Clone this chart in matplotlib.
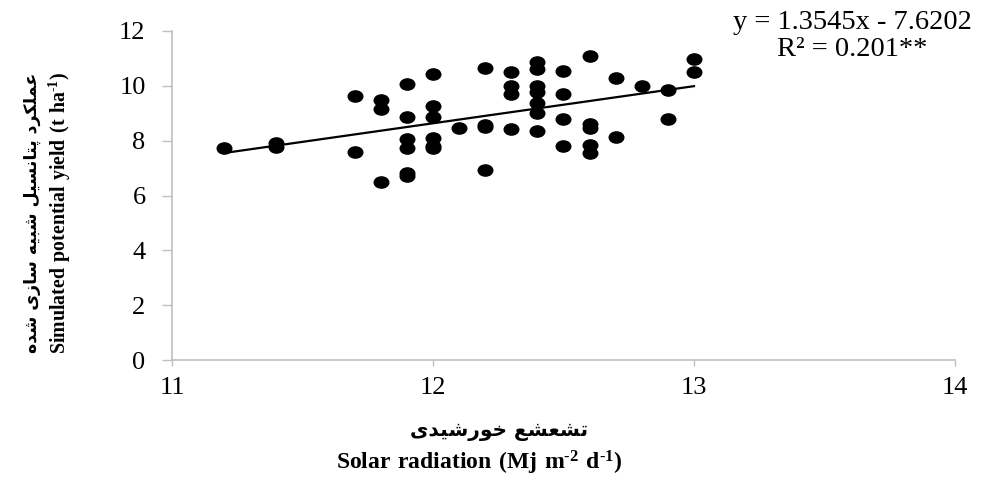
import numpy as np
import matplotlib
matplotlib.use("Agg")
import matplotlib.pyplot as plt
from matplotlib.path import Path
from matplotlib.transforms import Affine2D

# data
x_vals = [11.2,
          11.4, 11.4,
          11.7, 11.7,
          11.8, 11.8, 11.8,
          11.9, 11.9, 11.9, 11.9, 11.9, 11.9,
          12.0, 12.0, 12.0, 12.0, 12.0, 12.0,
          12.1,
          12.2, 12.2, 12.2, 12.2,
          12.3, 12.3, 12.3, 12.3,
          12.4, 12.4, 12.4, 12.4, 12.4, 12.4, 12.4,
          12.5, 12.5, 12.5, 12.5,
          12.6, 12.6, 12.6, 12.6, 12.6,
          12.7, 12.7,
          12.8,
          12.9, 12.9,
          13.0, 13.0]
y_vals = [7.74,
          7.93, 7.78,
          9.64, 7.60,
          9.48, 9.14, 6.50,
          10.07, 8.87, 8.06, 7.74, 6.82, 6.70,
          10.42, 9.26, 8.87, 8.08, 7.82, 7.72,
          8.45,
          10.66, 8.58, 8.50, 6.93,
          10.49, 10.00, 9.70, 8.41,
          10.88, 10.60, 10.00, 9.79, 9.38, 9.02, 8.36,
          10.55, 9.70, 8.78, 7.80,
          11.09, 8.60, 8.45, 7.84, 7.56,
          10.27, 8.14,
          9.99,
          9.85, 8.78,
          10.98, 10.49]
slope, intercept = 1.3545, -7.6202
x_ticks = [11, 12, 13, 14]
y_ticks = [0, 2, 4, 6, 8, 10, 12]

eq_text = "y = 1.3545x - 7.6202"
r2_text = "R\u00b2 = 0.201**"
ylabel_fa = "عملکرد پتانسیل شبیه سازی شده"
xlabel_fa = "تشعشع خورشیدی"
xlabel_en = "$\\mathbf{Solar\\ radiation\\ (Mj\\ m^{\u20102}\\ d^{\u20101})}$"
ylabel_en = "$\\mathbf{Simulated\\ potential\\ yield\\ (t\\ ha^{\u20101})}$"

# --- minimal Persian shaping (matplotlib has no bidi / joining) ---
FORMS = {
    "ع": "\uFEC9\uFECA\uFECB\uFECC", "م": "\uFEE1\uFEE2\uFEE3\uFEE4",
    "ل": "\uFEDD\uFEDE\uFEDF\uFEE0", "ک": "\uFB8E\uFB8F\uFB90\uFB91",
    "پ": "\uFB56\uFB57\uFB58\uFB59", "ت": "\uFE95\uFE96\uFE97\uFE98",
    "ن": "\uFEE5\uFEE6\uFEE7\uFEE8", "س": "\uFEB1\uFEB2\uFEB3\uFEB4",
    "ی": "\uFBFC\uFBFD\uFBFE\uFBFF", "ش": "\uFEB5\uFEB6\uFEB7\uFEB8",
    "ب": "\uFE8F\uFE90\uFE91\uFE92", "ه": "\uFEE9\uFEEA\uFEEB\uFEEC",
    "خ": "\uFEA5\uFEA6\uFEA7\uFEA8",
    "ر": "\uFEAD\uFEAE", "د": "\uFEA9\uFEAA", "ا": "\uFE8D\uFE8E",
    "ز": "\uFEAF\uFEB0", "و": "\uFEED\uFEEE",
}


def shape_fa(s):
    out = []
    for i, c in enumerate(s):
        if c not in FORMS:
            out.append(c)
            continue
        prev = s[i - 1] if i > 0 else ""
        nxt = s[i + 1] if i + 1 < len(s) else ""
        jp = prev in FORMS and len(FORMS[prev]) == 4
        jn = len(FORMS[c]) == 4 and nxt in FORMS
        f = FORMS[c]
        if jp and jn:
            out.append(f[3])
        elif jp:
            out.append(f[1])
        elif jn:
            out.append(f[2])
        else:
            out.append(f[0])
    return "".join(out)[::-1]


plt.rcParams["mathtext.fontset"] = "custom"
plt.rcParams["mathtext.rm"] = "Liberation Serif"
plt.rcParams["mathtext.bf"] = "Liberation Serif:bold"

SERIF = "Liberation Serif"
AXIS_GRAY = "#BFBFBF"

fig = plt.figure(figsize=(9.93, 4.79), dpi=100)
ax = fig.add_axes([0.1732, 0.2484, 0.7885, 0.6869])

ellipse = Path.unit_circle().transformed(Affine2D().scale(1.3, 1.0))
ax.plot(x_vals, y_vals, linestyle="none", marker=ellipse, markersize=10.5,
        color="black", zorder=3)

xl = np.array([min(x_vals), max(x_vals)])
ax.plot(xl, slope * xl + intercept, color="black", linewidth=1.6, zorder=2)

ax.set_xlim(11, 14)
ax.set_ylim(0, 12)
ax.set_xticks(x_ticks)
ax.set_yticks(y_ticks)
for lab in ax.get_xticklabels() + ax.get_yticklabels():
    lab.set_fontfamily(SERIF)
    lab.set_fontsize(19)
ax.tick_params(axis="y", length=7, width=1, color=AXIS_GRAY, pad=12)
ax.tick_params(axis="x", length=4, width=1, color=AXIS_GRAY, pad=8)
for side in ["top", "right"]:
    ax.spines[side].set_visible(False)
for side in ["left", "bottom"]:
    ax.spines[side].set_color(AXIS_GRAY)
    ax.spines[side].set_linewidth(1.2)

# regression text
fig.text(0.858, 0.952, eq_text, family=SERIF, fontsize=20.5, ha="center", va="center")
fig.text(0.858, 0.896, r2_text, family=SERIF, fontsize=20.5, ha="center", va="center")

# axis titles (Persian + English)
fig.text(0.503, 0.100, shape_fa(xlabel_fa), family="DejaVu Sans", fontweight="bold",
         fontsize=14.5, ha="center", va="center")
fig.text(0.483, 0.034, xlabel_en, fontsize=17, ha="center", va="center")
fig.text(0.032, 0.555, shape_fa(ylabel_fa), family="DejaVu Sans", fontweight="bold",
         fontsize=12.5, ha="center", va="center", rotation=90)
fig.text(0.060, 0.555, ylabel_en, fontsize=14.3, ha="center", va="center", rotation=90)

fig.savefig("out.png", dpi=100)
